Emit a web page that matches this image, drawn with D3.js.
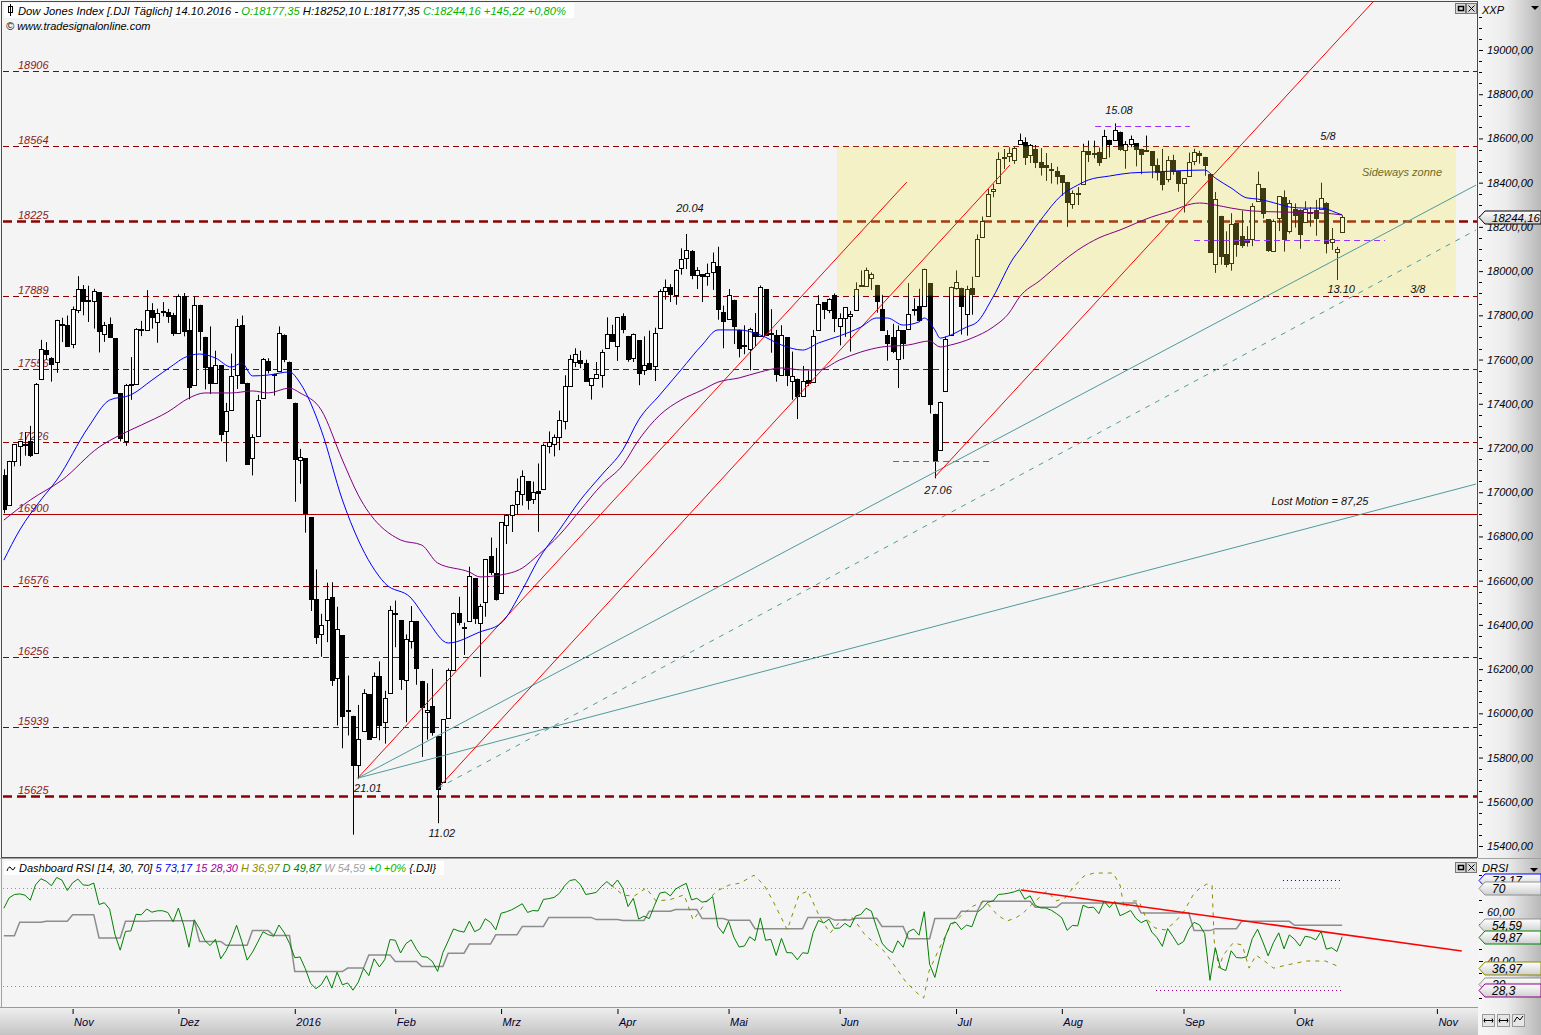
<!DOCTYPE html>
<html><head><meta charset="utf-8">
<script src="https://cdn.jsdelivr.net/npm/d3@7/dist/d3.min.js"></script>
<style>
body{margin:0;background:#f4f4f4;}
svg{display:block;font-family:"Liberation Sans",Arial,sans-serif;}
.it{font-style:italic;}
</style></head>
<body><svg id="c" width="1541" height="1035"></svg>
<script>
// ---------------- DATA ----------------
const dates = [
"2015-10-14","2015-10-15","2015-10-16","2015-10-19","2015-10-20","2015-10-21","2015-10-22","2015-10-23","2015-10-26","2015-10-27","2015-10-28","2015-10-29","2015-10-30",
"2015-11-02","2015-11-03","2015-11-04","2015-11-05","2015-11-06","2015-11-09","2015-11-10","2015-11-11","2015-11-12","2015-11-13","2015-11-16","2015-11-17","2015-11-18","2015-11-19","2015-11-20","2015-11-23","2015-11-24","2015-11-25","2015-11-27","2015-11-30",
"2015-12-01","2015-12-02","2015-12-03","2015-12-04","2015-12-07","2015-12-08","2015-12-09","2015-12-10","2015-12-11","2015-12-14","2015-12-15","2015-12-16","2015-12-17","2015-12-18","2015-12-21","2015-12-22","2015-12-23","2015-12-24","2015-12-28","2015-12-29","2015-12-30","2015-12-31",
"2016-01-04","2016-01-05","2016-01-06","2016-01-07","2016-01-08","2016-01-11","2016-01-12","2016-01-13","2016-01-14","2016-01-15","2016-01-19","2016-01-20","2016-01-21","2016-01-22","2016-01-25","2016-01-26","2016-01-27","2016-01-28","2016-01-29",
"2016-02-01","2016-02-02","2016-02-03","2016-02-04","2016-02-05","2016-02-08","2016-02-09","2016-02-10","2016-02-11","2016-02-12","2016-02-16","2016-02-17","2016-02-18","2016-02-19","2016-02-22","2016-02-23","2016-02-24","2016-02-25","2016-02-26","2016-02-29",
"2016-03-01","2016-03-02","2016-03-03","2016-03-04","2016-03-07","2016-03-08","2016-03-09","2016-03-10","2016-03-11","2016-03-14","2016-03-15","2016-03-16","2016-03-17","2016-03-18","2016-03-21","2016-03-22","2016-03-23","2016-03-24","2016-03-28","2016-03-29","2016-03-30","2016-03-31",
"2016-04-01","2016-04-04","2016-04-05","2016-04-06","2016-04-07","2016-04-08","2016-04-11","2016-04-12","2016-04-13","2016-04-14","2016-04-15","2016-04-18","2016-04-19","2016-04-20","2016-04-21","2016-04-22","2016-04-25","2016-04-26","2016-04-27","2016-04-28","2016-04-29",
"2016-05-02","2016-05-03","2016-05-04","2016-05-05","2016-05-06","2016-05-09","2016-05-10","2016-05-11","2016-05-12","2016-05-13","2016-05-16","2016-05-17","2016-05-18","2016-05-19","2016-05-20","2016-05-23","2016-05-24","2016-05-25","2016-05-26","2016-05-27","2016-05-31",
"2016-06-01","2016-06-02","2016-06-03","2016-06-06","2016-06-07","2016-06-08","2016-06-09","2016-06-10","2016-06-13","2016-06-14","2016-06-15","2016-06-16","2016-06-17","2016-06-20","2016-06-21","2016-06-22","2016-06-23","2016-06-24","2016-06-27","2016-06-28","2016-06-29","2016-06-30",
"2016-07-01","2016-07-05","2016-07-06","2016-07-07","2016-07-08","2016-07-11","2016-07-12","2016-07-13","2016-07-14","2016-07-15","2016-07-18","2016-07-19","2016-07-20","2016-07-21","2016-07-22","2016-07-25","2016-07-26","2016-07-27","2016-07-28","2016-07-29",
"2016-08-01","2016-08-02","2016-08-03","2016-08-04","2016-08-05","2016-08-08","2016-08-09","2016-08-10","2016-08-11","2016-08-12","2016-08-15","2016-08-16","2016-08-17","2016-08-18","2016-08-19","2016-08-22","2016-08-23","2016-08-24","2016-08-25","2016-08-26","2016-08-29","2016-08-30","2016-08-31",
"2016-09-01","2016-09-02","2016-09-06","2016-09-07","2016-09-08","2016-09-09","2016-09-12","2016-09-13","2016-09-14","2016-09-15","2016-09-16","2016-09-19","2016-09-20","2016-09-21","2016-09-22","2016-09-23","2016-09-26","2016-09-27","2016-09-28","2016-09-29","2016-09-30",
"2016-10-03","2016-10-04","2016-10-05","2016-10-06","2016-10-07","2016-10-10","2016-10-11","2016-10-12","2016-10-13","2016-10-14"];

const opens = [
17079,16944,17142,17209,17217,17230,17176,17510,17645,17605,17587,17760,17755,
17672,17823,17919,17868,17863,17905,17717,17761,17697,17448,17230,17486,17490,17739,17733,17824,17770,17820,17813,17802,
17719,17889,17733,17483,17845,17703,17568,17493,17574,17277,17374,17530,17756,17495,17154,17253,17427,17593,17536,17548,17711,17591,
17405,17147,17154,16888,16519,16358,16420,16526,16159,16354,16009,15989,15768,15921,16086,15893,16168,15960,16090,
16453,16420,16153,16329,16417,16147,16005,16035,15897,15691,15979,16196,16455,16391,16417,16610,16407,16504,16712,16634,
16545,16851,16896,16945,16991,17051,16969,17006,17014,17207,17218,17250,17321,17481,17590,17600,17583,17483,17515,17528,17652,17716,
17661,17799,17707,17606,17687,17555,17586,17571,17741,17909,17926,17890,18012,18059,18092,17982,17987,17980,17996,18023,17813,
17783,17871,17735,17664,17650,17726,17707,17919,17722,17711,17531,17701,17501,17514,17437,17507,17498,17735,17859,17826,17891,
17754,17789,17799,17825,17936,17931,17969,17938,17830,17710,17703,17602,17733,17736,17827,17844,17844,17946,17355,17190,17456,17713,
17924,17925,17807,17925,17976,18156,18248,18363,18400,18512,18521,18503,18575,18583,18524,18554,18492,18478,18460,18455,
18434,18404,18302,18348,18394,18543,18531,18539,18511,18594,18591,18631,18550,18573,18578,18553,18545,18543,18482,18450,18415,18503,18454,
18397,18431,18500,18535,18517,18440,18030,18250,18079,18037,18217,18160,18146,18145,18317,18376,18235,18093,18238,18337,18181,
18282,18275,18222,18269,18276,18282,18308,18133,18088,18177.35];
const highs = [
17104,17142,17216,17232,17272,17300,17494,17689,17679,17611,17780,17789,17799,
17840,17977,17937,17934,17920,17905,17770,17790,17697,17448,17490,17611,17742,17775,17914,17855,17830,17860,17829,17811,
17895,17901,17785,17885,17848,17703,17750,17640,17574,17404,17627,17784,17799,17495,17262,17440,17607,17606,17536,17750,17714,17591,
17405,17196,17154,16888,16651,16450,16591,16593,16482,16354,16171,15989,16038,16109,16086,16185,16235,16102,16486,
16510,16420,16357,16485,16418,16147,16136,16201,15897,15974,16203,16456,16527,16410,16663,16610,16495,16698,16795,16748,
16865,16900,16944,17062,17099,17051,17048,17130,17220,17275,17261,17369,17529,17621,17651,17640,17599,17516,17589,17645,17791,17757,
17793,17809,17707,17718,17687,17705,17731,17744,17918,17962,17941,18009,18103,18168,18095,18018,17987,18034,18084,18110,17844,
17919,17871,17735,17755,17744,17810,17935,17919,17828,17734,17755,17701,17636,17514,17571,17550,17734,17891,17860,17877,17899,
17809,17838,17820,17949,18003,18016,17994,17938,17893,17733,17762,17754,17733,17946,17877,17920,18011,17946,17355,17410,17704,17930,
18003,17925,17934,17975,18166,18247,18371,18394,18537,18552,18560,18563,18622,18605,18575,18570,18556,18534,18489,18472,
18434,18404,18365,18380,18576,18590,18590,18559,18639,18594,18668,18631,18588,18613,18578,18553,18613,18543,18509,18553,18520,18526,18454,
18419,18536,18553,18544,18517,18440,18358,18250,18180,18262,18217,18274,18203,18307,18450,18376,18235,18234,18339,18365,18322,
18306,18280,18316,18290,18322,18400,18312,18195,18110,18252.10];
const lows = [
16905,16944,17117,17119,17165,17159,17176,17510,17600,17500,17540,17679,17660,
17651,17810,17800,17770,17740,17632,17680,17700,17447,17230,17210,17418,17485,17706,17733,17740,17676,17795,17766,17707,
17719,17705,17420,17483,17640,17465,17444,17493,17230,17138,17374,17467,17494,17128,17076,17253,17427,17537,17437,17548,17588,17421,
16957,17038,16817,16463,16314,16256,16322,16124,15945,15842,15900,15451,15704,15921,15880,15893,15878,15863,16090,
16299,16106,15960,16293,16129,15803,15881,15899,15503,15691,15979,16196,16398,16264,16417,16404,16165,16437,16626,16510,
16545,16766,16820,16898,16940,16921,16947,16821,17014,17176,17162,17190,17284,17481,17566,17561,17499,17419,17512,17473,17652,17685,
17594,17719,17590,17589,17484,17530,17556,17503,17741,17871,17860,17848,17984,18009,17963,17919,17860,17934,17915,17780,17651,
17783,17670,17610,17624,17551,17660,17707,17711,17631,17500,17531,17480,17418,17331,17437,17480,17498,17735,17783,17810,17724,
17664,17703,17636,17822,17936,17931,17915,17812,17733,17595,17629,17471,17602,17736,17799,17770,17844,17356,17063,17190,17456,17711,
17916,17713,17708,17803,17976,18156,18248,18334,18400,18462,18493,18485,18575,18480,18489,18466,18432,18408,18396,18392,
18340,18200,18282,18299,18394,18493,18510,18476,18511,18514,18591,18544,18463,18560,18474,18438,18541,18420,18410,18365,18402,18436,18359,
18265,18431,18479,18486,18431,18085,17992,18029,18017,18002,18065,18105,18111,18113,18317,18238,18087,18093,18181,18088,18170,
18197,18101,18218,18201,18160,18282,18080,18096,17960,18177.35];
const closes = [
16924,17141,17216,17230,17217,17168,17489,17646,17623,17581,17780,17755,17663,
17829,17918,17867,17863,17910,17730,17758,17702,17449,17245,17483,17489,17738,17732,17824,17792,17812,17813,17798,17720,
17888,17730,17478,17848,17731,17568,17493,17575,17265,17368,17525,17750,17495,17128,17252,17418,17603,17553,17528,17721,17604,17425,
17149,17159,16907,16515,16347,16399,16517,16152,16380,15988,16016,15767,15882,16094,15886,16167,15945,16070,16466,
16450,16154,16337,16417,16205,16027,16014,15914,15660,15974,16196,16454,16414,16392,16620,16431,16485,16698,16640,16517,
16865,16899,16943,17007,17074,16964,17000,16995,17213,17229,17251,17326,17481,17602,17624,17583,17502,17516,17536,17634,17717,17685,
17792,17737,17603,17716,17541,17577,17556,17721,17908,17926,17897,18004,18053,18096,17982,18003,17977,17990,18041,17830,17773,
17891,17750,17651,17660,17740,17705,17928,17711,17720,17535,17711,17530,17526,17435,17501,17493,17706,17851,17828,17873,17787,
17790,17838,17807,17920,17938,18005,17985,17865,17733,17675,17640,17733,17675,17805,17829,17780,18011,17400,17141,17410,17695,17930,
17949,17841,17919,17896,18147,18227,18348,18373,18507,18517,18534,18559,18595,18518,18571,18493,18473,18472,18456,18432,
18404,18314,18355,18352,18544,18529,18533,18495,18613,18576,18636,18552,18573,18597,18553,18529,18547,18481,18448,18395,18502,18454,18400,
18419,18492,18539,18526,18479,18085,18325,18067,18034,18212,18124,18120,18130,18294,18392,18261,18094,18228,18339,18143,18308,
18254,18168,18281,18269,18240,18329,18129,18144,18098.94,18244.16];
// closes before the window (Sep 1 - Oct 13 2015), only used to warm up the RSI
const priorCloses = [16058,16351,16374,16102,16493,16254,16330,16433,16370,16599,16739,16674,16385,16510,16330,16280,16201,16315,16001,16049,16285,16272,16472,16776,16790,16912,17050,17084,17131,17081];

// moving averages (bar number, value)
const blueDay = [0,3,7,10,16,20,24,28,32,34,37,40,43,45,47,50,54,56,60,64,67,72,77,80,84,90,94,98,101,105,109,113,117,120,124,128,132,135,139,143,147,151,154,158,162,165,167,170,173,174,176,177,178,182,184,187,191,192,196,200,203,205,209,213,217,227,229,232,235,237,241,243,246,249,252,253];
const blueVal = [16693,16829,16965,17055,17295,17417,17440,17507,17575,17607,17625,17607,17566,17584,17526,17530,17544,17494,17281,16965,16784,16589,16521,16422,16318,16368,16408,16558,16693,16829,16965,17078,17191,17327,17440,17553,17666,17734,17734,17711,17666,17643,17675,17707,17747,17788,17788,17756,17770,17788,17734,17697,17702,17747,17770,17883,18064,18095,18231,18344,18389,18412,18430,18444,18448,18457,18421,18376,18331,18326,18303,18290,18285,18285,18263,18254];
const purpleDay = [0,5,11,18,22,26,31,35,38,43,47,50,54,56,60,64,67,75,79,82,88,90,94,98,101,105,109,113,117,120,124,128,132,135,139,143,147,151,154,158,162,166,171,175,177,179,183,187,190,192,196,200,203,207,211,217,220,226,229,232,236,242,249,253];
const purpleVal = [16874,16965,17055,17204,17259,17304,17363,17426,17449,17449,17458,17449,17471,17449,17372,17146,16987,16784,16761,16680,16639,16617,16626,16657,16716,16806,16920,17033,17123,17236,17349,17417,17462,17498,17517,17544,17562,17553,17553,17598,17634,17657,17666,17684,17657,17666,17697,17747,17810,17883,17960,18041,18095,18150,18186,18245,18267,18308,18299,18285,18272,18267,18263,18254];

// horizontal levels
const levels = [18906,18564,18225,17889,17556,17226,16900,16576,16256,15939,15625];
// sideways zone
const zoneLow = 17889, zoneHigh = 18564, zoneFrom = 157.5, zoneTo = 274.5;

// trend lines [bar1, price1, bar2, price2]
const redLines = [[66.9,15707,170.7,18403],[82.1,15662,190.2,18480],[176,17069,258.8,19217]];
const tealLines = [[66.9,15707,278.3,18389],[66.9,15707,278.3,17037]];
const tealDashed = [[82.1,15662,278.3,18186]];
const purpleLevels = [[206.3,224.2,18656],[225.0,261.1,18141],[168.1,186.4,17141]];

// annotations [text, bar, price]
const notes = [["20.04",129.7,18267],["15.08",210.8,18711],["27.06",176.6,16992],["21.01",68.8,15644],["11.02",82.8,15440],["13.10",252.8,17901],["5/8",250.3,18593],["3/8",267.3,17901],["Lost Motion = 87,25",248.8,16942]];
const zoneNote = ["Sideways zonne",264.3,18430];

// month axis: labels; the last tick lies in the empty future space
const monthLabels = ["Nov","Dez","2016","Feb","Mrz","Apr","Mai","Jun","Jul","Aug","Sep","Okt","Nov"];
const futureTick = 270.9;

// weekly RSI (one value per calendar week)
const weeklyRsi = [50.3,55.8,56.2,58.9,49.4,56.2,56.4,56.4,48.0,46.4,52.4,50.4,35.7,35.7,37.1,42.5,39.8,37.8,43.2,46.9,50.7,54.1,57.8,57.8,56.9,56.5,60.3,61.0,57.3,56.6,53.2,53.2,57.8,56.7,57.4,54.1,49.1,57.3,60.3,64.4,64.4,61.9,63.7,63.7,63.7,59.6,59.6,52.4,53.2,56.2,56.2,54.6,54.6];
// hourly RSI samples (bar number, value)
const hDay = [114.8,117,119.1,121.4,123.3,125.9,128.6,130.3,132.9,134.8,137.1,139.2,141.8,143.7,145.4,148.1,150.3,152,154.3,156.2,158.3,160.5,162.8,165.1,166.4,168.7,170.4,172.6,173.9,174.9,176.6,178.9,181.1,183.2,185.5,187.8,189.6,191.3,192.7,195,197.2,198.9,200.6,202.1,204.2,206.1,209.7,211,211.8,213.3,214.6,215.9,217.6,219.5,221.2,222.9,224.8,226.1,227.4,228.4,228.8,229.7,230.5,232.4,234.1,235.4,236.7,238.3,240,242.6,246.2,249.8,252.6];
const hVal = [71,67,66.4,69.8,64.5,65,67,56.7,64.5,68.6,71,71.8,75,71,64.5,52.7,66.9,68.6,57.6,51.4,56.7,57.6,50.6,46.5,44,37.1,31.8,27,24.9,35.9,44,54.3,58.8,62.4,64.5,58.8,56.3,57.6,59.6,64.5,68.6,64.5,65.7,69.8,74.7,75.9,75.9,71,61.6,64.5,64.5,57.6,53.5,52.7,55.5,59.6,66.9,69.8,71.4,71,48.2,37.1,42.4,47.4,46.5,37.1,42.4,40,37.1,38.4,40,40,37.5];
const rsiTrend = [192.3,69.0,275.6,44.1];
const shortRsi = [[241.8,253,73.17],[217.8,253,28.3]]; // 5 and 15 periods: from, to, value
const rsiMarkers = [["73,17",73.17],["70",70],["54,59",54.59],["49,87",49.87],["30",30.6],["36,97",36.97],["28,3",28.3]];
const lastPrice = 18244.16;

// ---------------- DRAW ----------------
const svg = d3.select("#c");
const L = 3, R = 1477, T = 2, B = 857;
const x = d3.scaleLinear().domain([0, 253]).range([3.83, 1342.2]);
const y = d3.scaleLinear().domain([15400, 19000]).range([846, 50]);
const yr = d3.scaleLinear().domain([40, 60]).range([961, 912]);
const de = d3.formatLocale({decimal:",",thousands:".",grouping:[3],currency:["",""]});
const f2 = de.format(".2f");

const defs = svg.append("defs");
const gA = defs.append("linearGradient").attr("id","axg").attr("x1",0).attr("x2",1).attr("y1",0).attr("y2",0);
gA.append("stop").attr("offset","0%").attr("stop-color","#f6f6f6");
gA.append("stop").attr("offset","45%").attr("stop-color","#ececec");
gA.append("stop").attr("offset","100%").attr("stop-color","#b8b8b8");
const gB = defs.append("linearGradient").attr("id","bxg").attr("x1",0).attr("x2",0).attr("y1",0).attr("y2",1);
gB.append("stop").attr("offset","0%").attr("stop-color","#f0f0f0");
gB.append("stop").attr("offset","100%").attr("stop-color","#c4c4c4");
const gM = defs.append("linearGradient").attr("id","mkg").attr("x1",0).attr("x2",0).attr("y1",0).attr("y2",1);
gM.append("stop").attr("offset","0%").attr("stop-color","#ffffff");
gM.append("stop").attr("offset","100%").attr("stop-color","#cfcfcf");
defs.append("clipPath").attr("id","clipMain").append("rect").attr("x",L).attr("y",T).attr("width",R-L).attr("height",B-T);
defs.append("clipPath").attr("id","clipRsi").append("rect").attr("x",L).attr("y",860).attr("width",R-L).attr("height",146);

// backgrounds
svg.append("rect").attr("width",1541).attr("height",1035).attr("fill","#f4f4f4");
svg.append("rect").attr("x",R+1).attr("y",0).attr("width",1541-R-1).attr("height",1008).attr("fill","url(#axg)");

const main = svg.append("g").attr("clip-path","url(#clipMain)");

// level lines
const thick = new Set([18225,15625]);
levels.forEach(v=>{
  const yy = Math.round(y(v))+0.5;
  const ln = main.append("line").attr("x1",L).attr("x2",R).attr("y1",yy).attr("y2",yy);
  if (v===16900) ln.attr("stroke","#b40000").attr("stroke-width",1);
  else if (thick.has(v)) ln.attr("stroke","#8b0000").attr("stroke-width",2.6).attr("stroke-dasharray","9,5");
  else ln.attr("stroke","#8b0000").attr("stroke-width",1).attr("stroke-dasharray","6,4");
  main.append("text").attr("class","it").attr("x",18).attr("y",yy-3).attr("font-size",11)
    .attr("fill","#8b1a1a").text(v);
});

// candles
const bw = 3;
dates.forEach((d,i)=>{
  const cx = Math.round(x(i));
  const o=opens[i], c=closes[i], h=highs[i], l=lows[i];
  main.append("line").attr("x1",cx+0.5).attr("x2",cx+0.5).attr("y1",y(h)).attr("y2",y(l)).attr("stroke","#000");
  const top = Math.round(y(Math.max(o,c))), bot = Math.round(y(Math.min(o,c)));
  main.append("rect").attr("x",cx-1.5).attr("y",top+0.5).attr("width",bw+1).attr("height",Math.max(1,bot-top))
    .attr("fill", c>=o ? "#ffffff" : "#000000").attr("stroke","#000").attr("stroke-width",1);
});

// sideways zone overlay
main.append("rect").attr("x",x(zoneFrom)).attr("y",y(zoneHigh)).attr("width",x(zoneTo)-x(zoneFrom)).attr("height",y(zoneLow)-y(zoneHigh))
  .attr("fill","rgb(246,232,62)").attr("fill-opacity",0.25);

// purple dashed levels
purpleLevels.forEach(p=>{
  main.append("line").attr("x1",x(p[0])).attr("x2",x(p[1])).attr("y1",Math.round(y(p[2]))+0.5).attr("y2",Math.round(y(p[2]))+0.5)
    .attr("stroke","#9a32ff").attr("stroke-width",1).attr("stroke-dasharray","6,4");
});

// trend lines
const seg = (a,col,dash)=>main.append("line").attr("x1",x(a[0])).attr("y1",y(a[1])).attr("x2",x(a[2])).attr("y2",y(a[3]))
   .attr("stroke",col).attr("stroke-width",1).attr("stroke-dasharray",dash||null);
tealLines.forEach(a=>seg(a,"#4f9a9a"));
tealDashed.forEach(a=>seg(a,"#4f9a9a","5,6"));
redLines.forEach(a=>seg(a,"#ff0000"));

// moving averages
const lineGen = d3.line().x(d=>x(d[0])).y(d=>y(d[1])).curve(d3.curveMonotoneX);
main.append("path").attr("d",lineGen(purpleDay.map((d,i)=>[d,purpleVal[i]]))).attr("fill","none").attr("stroke","#800080").attr("stroke-width",1);
main.append("path").attr("d",lineGen(blueDay.map((d,i)=>[d,blueVal[i]]))).attr("fill","none").attr("stroke","#0000ff").attr("stroke-width",1);

// annotations
notes.forEach(n=>{
  main.append("text").attr("class","it").attr("x",x(n[1])).attr("y",y(n[2])).attr("text-anchor","middle")
    .attr("font-size",11).attr("fill","#111").text(n[0]);
});
main.append("text").attr("class","it").attr("x",x(zoneNote[1])).attr("y",y(zoneNote[2])).attr("text-anchor","middle")
  .attr("font-size",11).attr("fill","#6b6b1e").text(zoneNote[0]);

// header
const hdr = svg.append("g");
hdr.append("rect").attr("x",4).attr("y",3).attr("width",570).attr("height",15).attr("fill","#ffffff");
hdr.append("rect").attr("x",8.5).attr("y",6.5).attr("width",4).attr("height",6).attr("fill","#fff").attr("stroke","#000");
hdr.append("line").attr("x1",10.5).attr("x2",10.5).attr("y1",4).attr("y2",16).attr("stroke","#000");
const ht = hdr.append("text").attr("class","it").attr("x",18).attr("y",14.5).attr("font-size",11.2);
ht.append("tspan").attr("fill","#000").text("Dow Jones Index [.DJI  Täglich] 14.10.2016 - ");
ht.append("tspan").attr("fill","#00b400").text("O:18177,35 ");
ht.append("tspan").attr("fill","#000").text("H:18252,10 L:18177,35 ");
ht.append("tspan").attr("fill","#00b400").text("C:18244,16 +145,22 +0,80%");
svg.append("text").attr("class","it").attr("x",6).attr("y",29.5).attr("font-size",11).attr("fill","#000").text("© www.tradesignalonline.com");

// frame
svg.append("rect").attr("x",1.5).attr("y",1.5).attr("width",R-1).attr("height",B-1).attr("fill","none").attr("stroke","#ff0000").attr("stroke-width",1);

// window buttons
function buttons(yy){
  const g = svg.append("g");
  g.append("rect").attr("x",1455.5).attr("y",yy+0.5).attr("width",10).attr("height",10).attr("fill","#d8d8d8").attr("stroke","#777");
  g.append("rect").attr("x",1458.5).attr("y",yy+3.5).attr("width",5).attr("height",4).attr("fill","none").attr("stroke","#000").attr("stroke-width",1.5);
  g.append("rect").attr("x",1466.5).attr("y",yy+0.5).attr("width",10).attr("height",10).attr("fill","#d8d8d8").attr("stroke","#777");
  g.append("path").attr("d",`M1468.5,${yy+2.5}L1474.5,${yy+8.5}M1474.5,${yy+2.5}L1468.5,${yy+8.5}`).attr("stroke","#000");
}
buttons(3);

// right price axis
const ax = svg.append("g").attr("transform",`translate(${R+2},0)`);
ax.call(d3.axisRight(y).tickValues(d3.range(15400,19001,200)).tickFormat(f2).tickSize(4).tickPadding(4))
  .call(g=>g.select(".domain").remove())
  .call(g=>g.selectAll("text").attr("class","it").attr("font-size",11).attr("font-family","Liberation Sans, Arial").attr("fill","#000"));
ax.selectAll(".minor").data(d3.range(15400,19201,50).filter(v=>v%200!==0)).enter().append("line")
  .attr("x1",0).attr("x2",3).attr("y1",d=>Math.round(y(d))+0.5).attr("y2",d=>Math.round(y(d))+0.5).attr("stroke","#000");
svg.append("text").attr("class","it").attr("x",1482).attr("y",14).attr("font-size",11).text("XXP");
svg.append("path").attr("d","M1531,6L1539,6L1535,10Z").attr("fill","#000");

// last price marker
function marker(yy, txt, col, fs){
  const g = svg.append("g");
  g.append("path").attr("d",`M${R+2},${yy}L${R+8},${yy-6.5}L1541,${yy-6.5}L1541,${yy+6.5}L${R+8},${yy+6.5}Z`)
    .attr("fill","url(#mkg)").attr("stroke",col).attr("stroke-width",1);
  g.append("text").attr("class","it").attr("x",1492).attr("y",yy+4.5).attr("font-size",fs||12).attr("fill","#000").text(txt);
}
marker(Math.round(y(lastPrice))+0.5, "18244,16", "#000", 11.5);

// ---------------- RSI PANEL ----------------
svg.append("rect").attr("x",2).attr("y",859).attr("width",R-1).attr("height",148).attr("fill","#f4f4f4");
svg.append("line").attr("x1",0).attr("x2",R).attr("y1",858.5).attr("y2",858.5).attr("stroke","#a0a0a0");
svg.append("line").attr("x1",1.5).attr("x2",1.5).attr("y1",858).attr("y2",1007).attr("stroke","#a0a0a0");
const rp = svg.append("g").attr("clip-path","url(#clipRsi)");

// dotted 70/30
[70,30].forEach(v=>rp.append("line").attr("x1",L).attr("x2",x(253)).attr("y1",Math.round(yr(v))+0.5).attr("y2",Math.round(yr(v))+0.5)
  .attr("stroke","#909090").attr("stroke-dasharray","1,3"));
shortRsi.forEach((s,k)=>rp.append("line").attr("x1",x(s[0])).attr("x2",x(s[1])).attr("y1",Math.round(yr(s[2]))+0.5).attr("y2",Math.round(yr(s[2]))+0.5)
  .attr("stroke",k===0?"#0000ff":"#8b008b").attr("stroke-dasharray","1,3"));

// daily RSI 14 (Wilder) from closes
const allC = priorCloses.concat(closes);
let ag=0, al=0; const N=14;
for(let k=1;k<=N;k++){const d=allC[k]-allC[k-1]; if(d>0) ag+=d; else al-=d;}
ag/=N; al/=N;
const rsiAll = [];
rsiAll[N] = 100-100/(1+ag/al);
for(let k=N+1;k<allC.length;k++){const d=allC[k]-allC[k-1]; ag=(ag*(N-1)+Math.max(d,0))/N; al=(al*(N-1)+Math.max(-d,0))/N; rsiAll[k]=100-100/(1+ag/al);}
const dRsi = rsiAll.slice(priorCloses.length);

// weekly RSI per bar
const wk = dates.map(s=>+d3.utcMonday.floor(new Date(s+"T12:00:00Z")));
const wkKeys = Array.from(new Set(wk));
const wkPts = dates.map((s,i)=>[i, weeklyRsi[wkKeys.indexOf(wk[i])]]);

const lr = d3.line().x(d=>x(d[0])).y(d=>yr(d[1]));
rp.append("path").attr("d",lr(wkPts)).attr("fill","none").attr("stroke","#8c8c8c").attr("stroke-width",1.5);
rp.append("path").attr("d",lr(hDay.map((d,i)=>[d,hVal[i]]))).attr("fill","none").attr("stroke","#8b8b00").attr("stroke-width",1).attr("stroke-dasharray","4,5");
rp.append("path").attr("d",lr(dRsi.map((v,i)=>[i,v]))).attr("fill","none").attr("stroke","#008000").attr("stroke-width",1);
rp.append("line").attr("x1",x(rsiTrend[0])).attr("y1",yr(rsiTrend[1])).attr("x2",x(rsiTrend[2])).attr("y2",yr(rsiTrend[3]))
  .attr("stroke","#ff0000").attr("stroke-width",1.6);

// legend
const lg = svg.append("g");
lg.append("rect").attr("x",4).attr("y",861).attr("width",440).attr("height",14).attr("fill","#fff");
lg.append("path").attr("d","M7,871 q2,-6 4,-3 q2,4 4,-1").attr("fill","none").attr("stroke","#000");
const lt = lg.append("text").attr("class","it").attr("x",19).attr("y",872).attr("font-size",11);
[["Dashboard RSI [14, 30, 70] ","#000"],["5 73,17 ","#0000ff"],["15 28,30 ","#a000a0"],["H 36,97 ","#8b8b00"],["D 49,87 ","#008000"],["W 54,59 ","#a0a0a0"],["+0 +0% ","#00b400"],["{.DJI}","#000"]]
  .forEach(p=>lt.append("tspan").attr("fill",p[1]).text(p[0]));
buttons(862);

// RSI axis
const rax = svg.append("g").attr("transform",`translate(${R+2},0)`);
rax.call(d3.axisRight(yr).tickValues([40,60]).tickFormat(f2).tickSize(4).tickPadding(4))
  .call(g=>g.select(".domain").remove())
  .call(g=>g.selectAll("text").attr("class","it").attr("font-size",11).attr("font-family","Liberation Sans, Arial").attr("fill","#000"));
rax.selectAll(".mn").data([25,35,45,55,65,75]).enter().append("line").attr("x1",0).attr("x2",3)
  .attr("y1",d=>Math.round(yr(d))+0.5).attr("y2",d=>Math.round(yr(d))+0.5).attr("stroke","#000");
svg.append("line").attr("x1",R+1).attr("x2",1541).attr("y1",858.5).attr("y2",858.5).attr("stroke","#a0a0a0");
svg.append("text").attr("class","it").attr("x",1482).attr("y",872).attr("font-size",11).text("DRSI");
svg.append("path").attr("d","M1530,868L1538,868L1534,872Z").attr("fill","#000");
const mcol = {"73,17":"#0000ff","70":"#909090","54,59":"#909090","49,87":"#008000","30":"#909090","36,97":"#8b8b00","28,3":"#8b008b"};
rsiMarkers.forEach(m=>marker(Math.round(yr(m[1]))+0.5, m[0], mcol[m[0]], 12));

// time axis: a tick at the first bar of every month
const monthTicks = [];
dates.forEach((d,i)=>{ if (i>0 && d.slice(0,7)!==dates[i-1].slice(0,7)) monthTicks.push(i); });
monthTicks.push(futureTick);
svg.append("rect").attr("x",0).attr("y",1007).attr("width",R+1).attr("height",28).attr("fill","url(#bxg)");
svg.append("line").attr("x1",0).attr("x2",R+1).attr("y1",1007.5).attr("y2",1007.5).attr("stroke","#9a9a9a");
const tx = svg.append("g").attr("transform","translate(0,1009)");
tx.call(d3.axisBottom(x).tickValues(monthTicks).tickFormat((d,i)=>monthLabels[i]).tickSize(5).tickPadding(4))
  .call(g=>g.select(".domain").remove())
  .call(g=>g.selectAll("text").attr("class","it").attr("text-anchor","start").attr("dx",1).attr("font-size",11).attr("font-family","Liberation Sans, Arial").attr("fill","#000033"));
svg.append("rect").attr("x",R+1).attr("y",1008).attr("width",1541-R-1).attr("height",27).attr("fill","url(#axg)");
[1482,1497,1512].forEach((bx,k)=>{
  svg.append("rect").attr("x",bx+0.5).attr("y",1014.5).attr("width",12).attr("height",12).attr("fill","#e6e6e6").attr("stroke","#999");
  svg.append("path").attr("d",k<2?`M${bx+2},1020.5L${bx+11},1020.5M${bx+3},1018.5L${bx+2},1020.5L${bx+3},1022.5M${bx+10},1018.5L${bx+11},1020.5L${bx+10},1022.5`:`M${bx+2},1022L${bx+5},1017L${bx+8},1020L${bx+11},1016`).attr("stroke","#000").attr("fill","none");
});
</script></body></html>
